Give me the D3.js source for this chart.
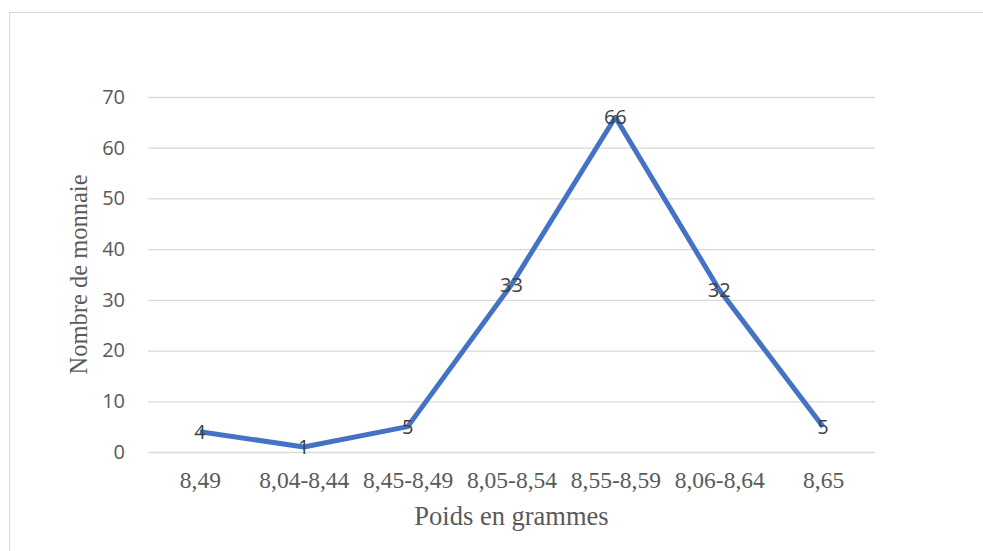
<!DOCTYPE html>
<html><head><meta charset="utf-8">
<script src="https://cdn.jsdelivr.net/npm/d3@7"></script>
<style>body{margin:0;background:#fff}svg{display:block}</style>
</head><body><svg id="c" width="983" height="551"></svg>
<script>
const categories = ["8,49","8,04-8,44","8,45-8,49","8,05-8,54","8,55-8,59","8,06-8,64","8,65"];
const values = [4,1,5,33,66,32,5];
const yTicks = [0,10,20,30,40,50,60,70];
const xTitle = "Poids en grammes";
const yTitle = "Nombre de monnaie";

const svg = d3.select("#c");
svg.append("rect").attr("x",9.5).attr("y",12.5).attr("width",985).attr("height",560)
  .attr("fill","#fff").attr("stroke","#d9d9d9").attr("stroke-width",1);

const pL=148, pR=875, pT=97, pB=452;
const x = d3.scalePoint().domain(categories).range([pL,pR]).padding(0.5);
const y = d3.scaleLinear().domain([0,70]).range([pB,pT]);

const gy = svg.append("g").attr("transform",`translate(${pL},0)`)
  .call(d3.axisLeft(y).tickValues(yTicks).tickSize(-(pR-pL)).tickPadding(23));
gy.select(".domain").remove();
gy.selectAll(".tick line").attr("stroke","#d9d9d9").attr("stroke-width",1.3);
gy.selectAll(".tick text").attr("fill","#595959").style("font-family","'Open Sans', 'Liberation Sans', sans-serif").style("font-size","20px");

const gx = svg.append("g").attr("transform",`translate(0,${pB})`)
  .call(d3.axisBottom(x).tickSize(0).tickPadding(19));
gx.select(".domain").remove();
gx.selectAll(".tick text").attr("fill","#595959").style("font-family","'Liberation Serif', serif").style("font-size","23.5px");

svg.append("path").datum(values)
  .attr("fill","none").attr("stroke","#4472C4").attr("stroke-width",5).attr("stroke-linejoin","round")
  .attr("d", d3.line().x((d,i)=>x(categories[i])).y(d=>y(d)));

svg.append("g").selectAll("text").data(values).join("text")
  .attr("x",(d,i)=>x(categories[i])).attr("y",d=>y(d)).attr("dy","0.36em")
  .attr("text-anchor","middle").attr("fill","#404040")
  .style("font-family","'Open Sans', 'Liberation Sans', sans-serif").style("font-size","20px")
  .text(d=>d);

svg.append("text").attr("x",(pL+pR)/2).attr("y",525).attr("text-anchor","middle")
  .attr("fill","#595959").style("font-family","'Liberation Serif', serif").style("font-size","26.5px").text(xTitle);
svg.append("text").attr("transform",`translate(87,${(pT+pB)/2}) rotate(-90)`).attr("text-anchor","middle")
  .attr("fill","#595959").style("font-family","'Liberation Serif', serif").style("font-size","24.5px").text(yTitle);
</script></body></html>
